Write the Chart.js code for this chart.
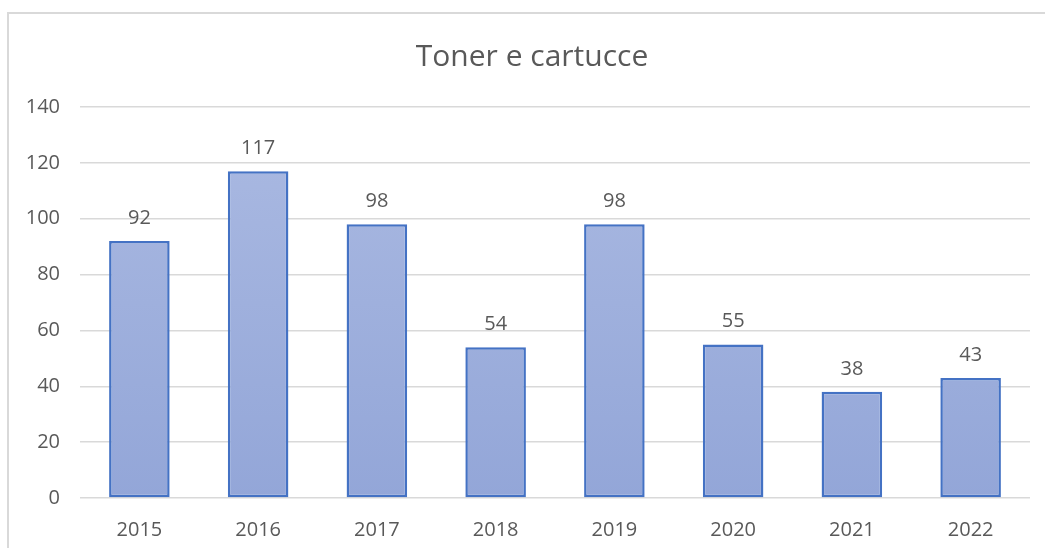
<!DOCTYPE html>
<html>
<head>
<meta charset="utf-8">
<script src="https://cdn.jsdelivr.net/npm/chart.js@4.4.0/dist/chart.umd.min.js"></script>
<style>
  body { margin: 0; background: #fff; }
  #cornice { position: absolute; left: 7px; top: 12px; width: 1045px; height: 548px;
    border-left: 2px solid #d9d9d9; border-top: 2px solid #d9d9d9; }
  #grafico { position: absolute; left: 0; top: 0; }
</style>
</head>
<body>
<div id="cornice"></div>
<canvas id="grafico" width="1045" height="548"></canvas>
<script>
const anni = ['2015', '2016', '2017', '2018', '2019', '2020', '2021', '2022']
const quantita = [92, 117, 98, 54, 98, 55, 38, 43]
const titolo = 'Toner e cartucce'

const grigio = '#595959'
const font = "'Open Sans', 'Noto Sans', sans-serif"

// etichette sopra le barre e titolo
const etichette = {
  id: 'etichette',
  afterDatasetsDraw(chart) {
    const ctx = chart.ctx
    const meta = chart.getDatasetMeta(0)
    ctx.save()
    ctx.fillStyle = grigio
    ctx.font = '20px ' + font
    ctx.textAlign = 'center'
    ctx.textBaseline = 'middle'
    meta.data.forEach(function (bar, i) {
      ctx.fillText(chart.data.datasets[0].data[i], bar.x, bar.y - 23)
    })
    ctx.font = '30px ' + font
    ctx.fillText(titolo, 532, 57)
    ctx.restore()
  }
}

function sfumatura(context) {
  const area = context.chart.chartArea
  if (!area) return '#a0b1dd'
  const g = context.chart.ctx.createLinearGradient(0, area.top, 0, area.bottom)
  g.addColorStop(0, '#abbae2')
  g.addColorStop(1, '#93a6d8')
  return g
}

new Chart(document.getElementById('grafico'), {
  type: 'bar',
  data: {
    labels: anni,
    datasets: [{
      data: quantita,
      backgroundColor: sfumatura,
      borderColor: '#4472c4',
      borderWidth: 2.5,
      borderSkipped: false,
      categoryPercentage: 1,
      barPercentage: 0.51
    }]
  },
  options: {
    responsive: false,
    animation: false,
    layout: { padding: { left: 0, right: 15, top: 107, bottom: 0 } },
    scales: {
      x: {
        grid: { display: false },
        border: { display: false },
        ticks: { color: grigio, font: { family: font, size: 20 }, padding: 12 },
        afterFit(scale) { scale.height = 50 }
      },
      y: {
        min: 0,
        max: 140,
        ticks: { stepSize: 20, color: grigio, font: { family: font, size: 20 }, padding: 20 },
        grid: { color: '#d9d9d9', lineWidth: 1.5, drawTicks: false },
        border: { display: false },
        afterFit(scale) { scale.width = 80 }
      }
    },
    plugins: {
      legend: { display: false },
      tooltip: { enabled: false },
      title: { display: false }
    }
  },
  plugins: [etichette]
})
</script>
</body>
</html>
